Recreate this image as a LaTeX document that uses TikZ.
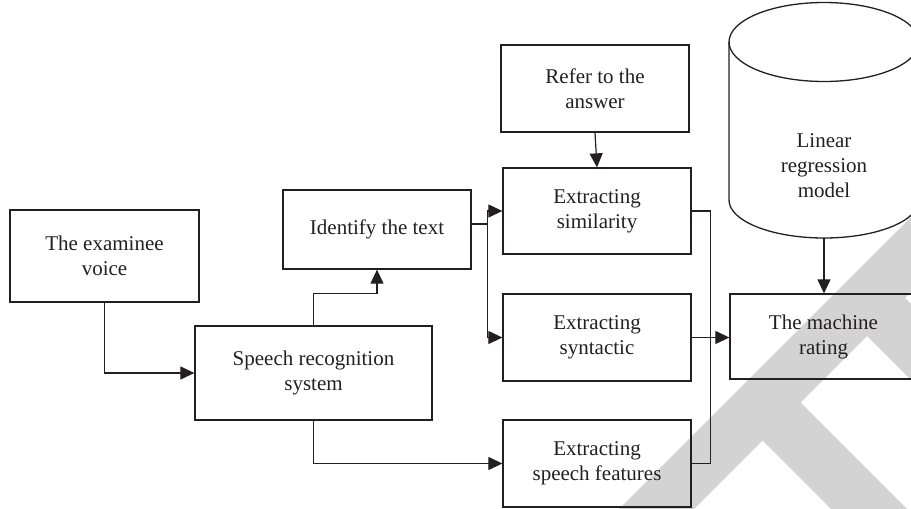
\documentclass[tikz,border=0pt]{standalone}
\usepackage{fontspec}
\setmainfont{Liberation Serif}
\usetikzlibrary{arrows.meta}
\definecolor{ink}{RGB}{35,31,32}
\definecolor{wm}{RGB}{211,211,211}
\begin{document}
\begin{tikzpicture}[x=1pt,y=-1pt,
  box/.style={draw=ink, line width=1.3pt, text=ink, align=center, inner sep=0pt,
              font=\fontsize{21}{25}\selectfont},
  conn/.style={draw=ink, line width=1.2pt, -{Triangle[length=14pt,width=13pt]}},
  plain/.style={draw=ink, line width=1.2pt},
  wmark/.style={fill=wm, draw=none}]
\useasboundingbox (0,0) rectangle (911,509);
\clip (0,0) rectangle (911,509);
% watermark
\path[wmark] (1228,-100) -- (1303,-100) -- (603,600) -- (528,600) -- cycle;
\path[wmark] (743.5,421.5) -- (781.5,383.5) -- (1098,700) -- (1022,700) -- cycle;
\path[wmark] (848,317) -- (886,279) -- (1307,700) -- (1231,700) -- cycle;
% boxes
\node[box, minimum width=189pt, minimum height=92pt] (voice) at (104.5,256) {The examinee\\voice};
\node[box, minimum width=237pt, minimum height=94pt] (speech) at (313.5,373) {Speech recognition\\system};
\node[box, minimum width=188pt, minimum height=79pt] (ident) at (377,229.5) {\raisebox{4pt}{Identify the text}};
\node[box, minimum width=188pt, minimum height=87pt] (refer) at (595,88.5) {Refer to the\\answer};
\node[box, minimum width=188pt, minimum height=86pt] (sim) at (597,211) {Extracting\\similarity};
\node[box, minimum width=188pt, minimum height=87pt] (syn) at (597,337.5) {Extracting\\syntactic};
\node[box, minimum width=188pt, minimum height=87pt] (feat) at (597,463.5) {Extracting\\speech features};
\node[box, minimum width=187pt, minimum height=85pt] (rating) at (823.5,336.5) {The machine\\rating};
% cylinder
\draw[box] (729,42) -- (729,200) arc[start angle=180, end angle=0, x radius=95, y radius=38] -- (919,42);
\draw[box] (824,42) ellipse[x radius=95, y radius=39.5];
\node[box, draw=none] (lrm) at (824,166) {Linear\\regression\\model};
\coordinate (lrmb) at (824,238);
% connectors
\coordinate (j1) at ([xshift=16pt,yshift=5.5pt]ident.east);
\draw[conn] (voice.south) |- (speech.west);
\draw[conn] (speech.north) -- ++(0,-32) -| (ident.south);
\draw[plain] ([yshift=5.5pt]ident.east) -- (j1);
\draw[conn] (j1) |- (sim.west);
\draw[conn] (j1) |- (syn.west);
\draw[conn] (refer.south) -- (sim.north);
\draw[plain] (sim.east) -- ++(19,0) |- (feat.east);
\draw[conn] (syn.east) -- (syn.east -| rating.west);
\draw[conn] (speech.south) |- (feat.west);
\draw[conn] (lrmb) -- (lrmb |- rating.north);
\end{tikzpicture}
\end{document}
